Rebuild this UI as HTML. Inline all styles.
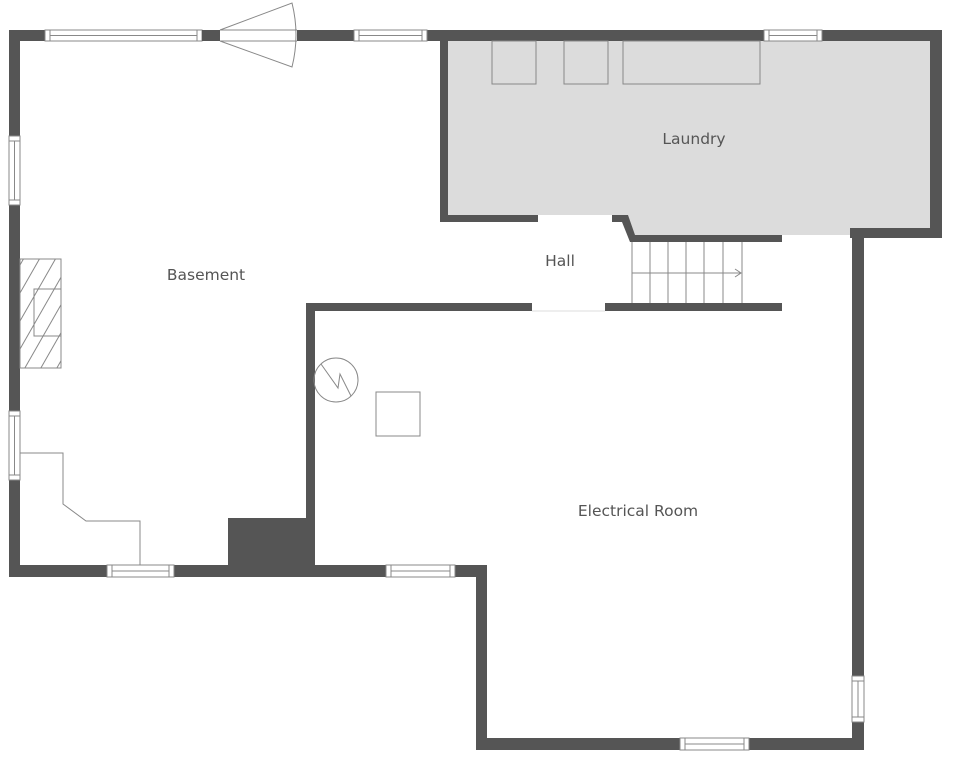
<!DOCTYPE html>
<html><head><meta charset="utf-8"><style>
html,body{margin:0;padding:0;background:#fff;width:955px;height:758px;overflow:hidden}
svg{display:block}
text{font-family:"DejaVu Sans","Liberation Sans",sans-serif;font-size:15.5px;fill:#555}
</style></head><body>
<svg width="955" height="758" viewBox="0 0 955 758" xmlns="http://www.w3.org/2000/svg">
<defs>
<clipPath id="fp"><rect x="20" y="259" width="41" height="109"/></clipPath>
</defs>
<polygon points="448,41 930,41 930,228 850,228 850,235 782,235 633,235 628,215 448,215" fill="#dcdcdc"/>
<g fill="#555">
<rect x="9" y="30" width="434" height="11"/>
<rect x="440" y="30" width="502" height="11"/>
<rect x="9" y="30" width="11" height="547"/>
<rect x="440" y="30" width="8" height="192"/>
<rect x="440" y="215" width="98" height="7"/>
<polygon points="612,215 628,215 635,235 782,235 782,242 630,242 622,222 612,222"/>
<rect x="930" y="30" width="12" height="208"/>
<rect x="850" y="228" width="92" height="10"/>
<rect x="852" y="228" width="12" height="522"/>
<rect x="306" y="303" width="226" height="8"/>
<rect x="605" y="303" width="177" height="8"/>
<rect x="306" y="303" width="9" height="270"/>
<rect x="9" y="565" width="478" height="12"/>
<rect x="476" y="565" width="11" height="185"/>
<rect x="476" y="738" width="388" height="12"/>
<rect x="228" y="518" width="80" height="50"/>
</g>
<g fill="#fff" stroke="#888" stroke-width="1">
<rect x="45" y="30" width="157" height="11"/><line x1="50" y1="35.5" x2="197" y2="35.5"/>
<line x1="50" y1="30" x2="50" y2="41"/><line x1="197" y1="30" x2="197" y2="41"/>
<rect x="354" y="30" width="73" height="11"/><line x1="359" y1="35.5" x2="422" y2="35.5"/>
<line x1="359" y1="30" x2="359" y2="41"/><line x1="422" y1="30" x2="422" y2="41"/>
<rect x="764" y="30" width="58" height="11"/><line x1="769" y1="35.5" x2="817" y2="35.5"/>
<line x1="769" y1="30" x2="769" y2="41"/><line x1="817" y1="30" x2="817" y2="41"/>
<rect x="9" y="136" width="11" height="69"/><line x1="14.5" y1="141" x2="14.5" y2="200"/>
<line x1="9" y1="141" x2="20" y2="141"/><line x1="9" y1="200" x2="20" y2="200"/>
<rect x="9" y="411" width="11" height="69"/><line x1="14.5" y1="416" x2="14.5" y2="475"/>
<line x1="9" y1="416" x2="20" y2="416"/><line x1="9" y1="475" x2="20" y2="475"/>
<rect x="107" y="565" width="67" height="12"/><line x1="112" y1="571" x2="169" y2="571"/>
<line x1="112" y1="565" x2="112" y2="577"/><line x1="169" y1="565" x2="169" y2="577"/>
<rect x="386" y="565" width="69" height="12"/><line x1="391" y1="571" x2="450" y2="571"/>
<line x1="391" y1="565" x2="391" y2="577"/><line x1="450" y1="565" x2="450" y2="577"/>
<rect x="680" y="738" width="69" height="12"/><line x1="685" y1="744" x2="744" y2="744"/>
<line x1="685" y1="738" x2="685" y2="750"/><line x1="744" y1="738" x2="744" y2="750"/>
<rect x="852" y="676" width="12" height="46"/><line x1="858" y1="681" x2="858" y2="717"/>
<line x1="852" y1="681" x2="864" y2="681"/><line x1="852" y1="717" x2="864" y2="717"/>
</g>
<rect x="202" y="30" width="18" height="11" fill="#555"/>
<rect x="220" y="30" width="77" height="11" fill="#fff"/>
<g fill="none" stroke="#888" stroke-width="1">
<line x1="220" y1="30" x2="297" y2="30"/><line x1="220" y1="41" x2="297" y2="41"/>
<path d="M220,30 L292,3 Q300,35 292,67 L220,41"/>
<rect x="492" y="41" width="44" height="43"/>
<rect x="564" y="41" width="44" height="43"/>
<rect x="623" y="41" width="137" height="43"/>
<line x1="632" y1="242" x2="632" y2="303"/>
<line x1="650" y1="242" x2="650" y2="303"/>
<line x1="668" y1="242" x2="668" y2="303"/>
<line x1="686" y1="242" x2="686" y2="303"/>
<line x1="704" y1="242" x2="704" y2="303"/>
<line x1="723" y1="242" x2="723" y2="303"/>
<line x1="742" y1="242" x2="742" y2="303"/>
<line x1="632" y1="273" x2="741" y2="273"/>
<path d="M735,269 L741,273 L735,277"/>
<line x1="532" y1="311" x2="605" y2="311" stroke="#ddd"/>
<rect x="20" y="259" width="41" height="109"/>
<rect x="34" y="289" width="27" height="47"/>
<g clip-path="url(#fp)">
<line x1="0" y1="300" x2="40" y2="230"/><line x1="0" y1="328" x2="56" y2="230"/>
<line x1="0" y1="356" x2="72" y2="230"/><line x1="0" y1="384" x2="88" y2="230"/>
<line x1="10" y1="394" x2="98" y2="240"/><line x1="26" y1="394" x2="114" y2="240"/>
<line x1="42" y1="394" x2="130" y2="240"/><line x1="58" y1="394" x2="146" y2="240"/>
</g>
<polyline points="20,453 63,453 63,504 86,521 140,521 140,565"/>
<circle cx="336" cy="380" r="22"/>
<polyline points="321,364 338,388 340,374 351,396"/>
<rect x="376" y="392" width="44" height="44"/>
</g>
<text x="206" y="280" text-anchor="middle">Basement</text>
<text x="694" y="144" text-anchor="middle">Laundry</text>
<text x="560" y="266" text-anchor="middle">Hall</text>
<text x="638" y="516" text-anchor="middle">Electrical Room</text>
</svg>
</body></html>
